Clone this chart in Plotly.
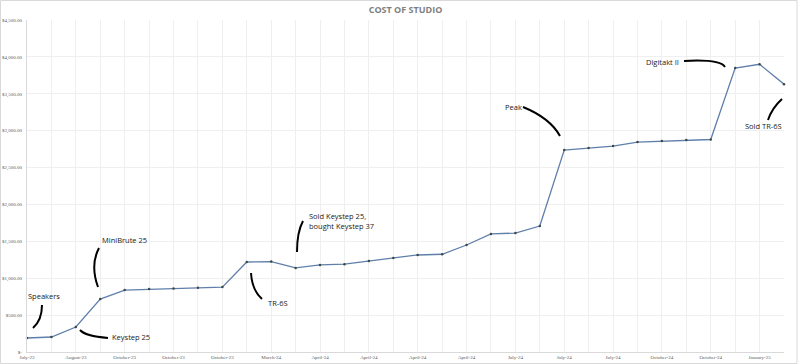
import plotly.graph_objects as go

# ---- data ----
cost = [190, 203, 339, 718, 840, 854, 860, 870, 880, 1220, 1225, 1140, 1180, 1190,
        1235, 1275, 1315, 1325, 1450, 1600, 1612, 1707, 2737, 2764, 2791, 2845, 2859,
        2873, 2880, 3848, 3900, 3630]
x_labels = ["July-23", "August-23", "October-23", "October-23", "October-23", "March-24",
            "April-24", "April-24", "April-24", "April-24", "July-24", "July-24", "July-24",
            "October-24", "October-24", "January-25"]
y_ticks = [0, 500, 1000, 1500, 2000, 2500, 3000, 3500, 4000, 4500]
y_labels = ["$-", "$500.00", "$1,000.00", "$1,500.00", "$2,000.00", "$2,500.00",
            "$3,000.00", "$3,500.00", "$4,000.00", "$4,500.00"]

notes = ["Speakers", "Keystep 25", "MiniBrute 25", "TR-6S",
         "Sold Keystep 25,<br>bought Keystep 37", "Peak", "Digitakt II", "Sold TR-6S"]

# layout geometry (pixels)
W, H = 800, 364
L, R, T, B = 27, 784, 20, 352

def px(x):
    return (x - L) / (R - L)

def py(y):
    return (B - y) / (B - T)

idx = list(range(len(cost)))
tickvals = idx
ticktext = []
for i in idx:
    ticktext.append(x_labels[i // 2] if i % 2 == 0 else "")

fig = go.Figure()
fig.add_trace(go.Scatter(
    x=idx, y=cost, mode="lines+markers",
    line=dict(color="#5f7fab", width=1.3),
    marker=dict(color="#3e4a44", size=2.5),
    hoverinfo="skip", showlegend=False, cliponaxis=False))

# annotation text: (note, x_px, y_px, xanchor)
note_pos = [
    (notes[0], 44, 296, "center"),
    (notes[1], 110, 337, "left"),
    (notes[2], 100, 240, "left"),
    (notes[3], 266, 303, "left"),
    (notes[4], 307, 221, "left"),
    (notes[5], 503, 107, "left"),
    (notes[6], 681, 62, "right"),
    (notes[7], 784, 126, "right"),
]
annotations = []
for t, x, y, xa in note_pos:
    annotations.append(dict(text=t, x=px(x), y=py(y), xref="paper", yref="paper",
                            xanchor=xa, yanchor="middle", showarrow=False, align="left",
                            font=dict(family="Open Sans", size=7.5, color="#222222")))

# hand-drawn pointer curves (pixel coords): start, control, end
curves = [
    ((42, 305), (42, 320), (33, 328)),
    ((80, 330), (85, 336), (108, 338)),
    ((99, 248), (90, 265), (98, 287)),
    ((251, 273), (252, 290), (262, 299)),
    ((303, 221), (297, 232), (297, 252)),
    ((523, 107), (550, 118), (560, 136)),
    ((684, 61), (720, 59), (725, 67)),
    ((782, 99), (772, 108), (768, 120)),
]
shapes = []
for (x0, y0), (xc, yc), (x1, y1) in curves:
    path = f"M {px(x0)},{py(y0)} Q {px(xc)},{py(yc)} {px(x1)},{py(y1)}"
    shapes.append(dict(type="path", path=path, xref="paper", yref="paper",
                       line=dict(color="black", width=2)))
# chart border
shapes.append(dict(type="rect", xref="paper", yref="paper",
                   x0=px(0.5), x1=px(797), y0=py(363.5), y1=py(0.5),
                   line=dict(color="#d9d9d9", width=1)))

fig.update_layout(
    width=W, height=H,
    margin=dict(l=L, r=W - R, t=T, b=H - B, autoexpand=False),
    paper_bgcolor="white", plot_bgcolor="white",
    title=dict(text="<b>COST OF STUDIO</b>", x=0.5, xref="paper", xanchor="center",
               y=1 - 10 / H, yanchor="middle",
               font=dict(family="Open Sans", size=9, color="#7f7f7f")),
    annotations=annotations, shapes=shapes,
    xaxis=dict(range=[0, len(cost) - 1], tickvals=tickvals, ticktext=ticktext,
               showgrid=True, gridcolor="#efefef", gridwidth=1, automargin=False,
               zeroline=False, showline=True, linecolor="#d9d9d9",
               ticks="", tickfont=dict(family="Liberation Serif", size=5, color="#595959")),
    yaxis=dict(range=[0, 4500], tickvals=y_ticks, ticktext=y_labels,
               showgrid=True, gridcolor="#efefef", gridwidth=1, automargin=False,
               zeroline=False, showline=True, linecolor="#d9d9d9",
               ticks="", ticklabelstandoff=3,
               tickfont=dict(family="Liberation Serif", size=5, color="#595959")),
)

fig.write_html("out.html", config={"displayModeBar": False},
               post_script="document.body.style.margin='0';")
